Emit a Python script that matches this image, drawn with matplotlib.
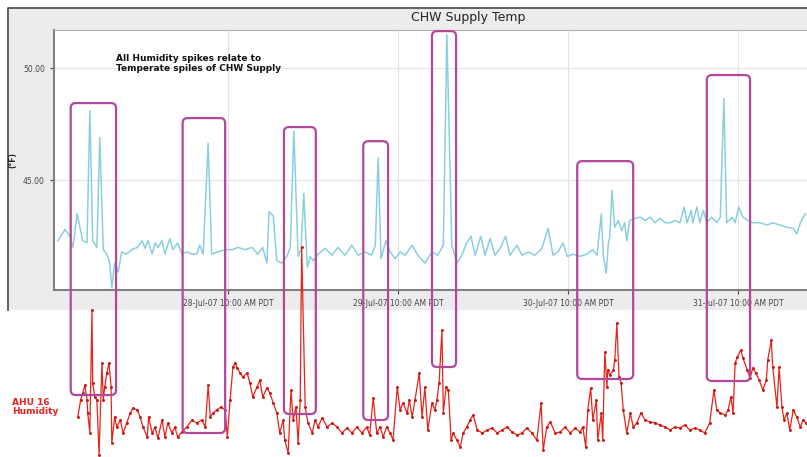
import datetime as dt
import matplotlib
matplotlib.use("Agg")
import matplotlib.pyplot as plt
import matplotlib.dates as mdates
from matplotlib.patches import Rectangle, FancyBboxPatch
from matplotlib.lines import Line2D
from matplotlib.transforms import IdentityTransform

## ---------------------- DATA -------------------------------
start = dt.datetime(2007, 7, 27, 10, 0)

# CHW supply temp (hours after start, deg F)
chw_hours = [0.0, 1.0, 1.7, 2.1, 2.7, 3.1, 3.5, 4.1, 4.5, 4.9, 5.5, 5.9, 6.4, 6.9, 7.3,
             7.6, 8.0, 8.5, 9.0, 9.7, 10.4, 11.2, 11.9, 12.3, 12.7, 13.3, 13.7, 14.1,
             14.7, 15.1, 15.8, 16.2, 16.9, 17.5, 18.2, 18.9, 19.6, 20.0, 20.5, 21.2,
             21.7, 22.6, 23.6, 24.6, 25.4, 26.4, 27.4, 28.2, 28.9, 29.5, 29.8, 30.4,
             30.9, 31.6, 32.3, 32.8, 33.3, 33.9, 34.3, 34.7, 35.2, 35.6, 36.0, 36.7,
             37.7, 38.7, 39.5, 40.5, 41.5, 42.4, 43.3, 44.3, 44.8, 45.2, 45.6, 46.3,
             46.9, 47.6, 48.3, 49.0, 50.0, 50.8, 51.8, 52.8, 53.6, 54.4, 54.9, 55.6,
             56.3, 57.0, 57.7, 58.3, 58.9, 59.7, 60.3, 61.0, 61.7, 62.4, 63.2, 63.8,
             64.8, 65.5, 66.4, 67.3, 68.3, 69.2, 69.9, 70.6, 71.3, 71.9, 72.7, 73.7,
             74.7, 75.5, 76.1, 76.7, 77.0, 77.4, 77.7, 77.9, 78.2, 78.6, 79.1, 79.6,
             80.0, 80.3, 80.7, 81.5, 82.2, 82.9, 83.6, 84.3, 85.0, 85.7, 86.4, 87.1,
             87.8, 88.4, 88.8, 89.4, 89.6, 90.2, 90.6, 91.1, 91.6, 92.3, 93.0, 93.5,
             94.0, 94.4, 95.2, 95.6, 96.1, 96.7, 97.4, 98.1, 99.1, 100.1, 100.9,
             101.9, 102.9, 103.8, 104.3, 104.8, 105.5]
chw_temp = [42.3, 42.8, 42.5, 42.0, 43.5, 42.9, 42.3, 42.2, 48.1, 42.3, 42.0, 46.9, 41.9,
            41.7, 41.3, 40.2, 41.3, 40.9, 41.8, 41.7, 41.9, 42.0, 42.3, 41.95, 42.3,
            41.7, 42.2, 42.0, 42.3, 41.7, 42.4, 41.9, 42.2, 41.7, 41.8, 41.7, 41.7,
            42.1, 41.7, 46.65, 41.7, 41.8, 41.9, 41.9, 42.0, 41.9, 42.0, 41.7, 42.0,
            41.3, 43.6, 43.4, 41.4, 41.3, 41.6, 42.0, 47.2, 41.6, 41.9, 44.4, 41.1,
            41.6, 41.4, 41.7, 41.95, 41.65, 42.0, 41.65, 42.1, 41.65, 41.8, 41.65,
            42.1, 46.0, 41.5, 42.3, 41.8, 41.5, 41.8, 41.65, 42.1, 41.65, 41.3, 41.8,
            41.65, 42.1, 51.5, 42.1, 41.3, 41.65, 42.2, 42.5, 41.65, 42.5, 41.65, 42.4,
            41.65, 41.95, 42.5, 41.65, 42.1, 41.65, 41.8, 41.65, 41.95, 42.85, 41.65,
            41.8, 42.2, 41.6, 41.7, 41.6, 41.7, 41.9, 41.65, 43.5, 41.6, 40.85, 42.2,
            42.45, 44.55, 42.9, 43.2, 42.75, 43.1, 42.3, 43.2, 43.3, 43.35, 43.2, 43.35,
            43.1, 43.3, 43.1, 43.1, 43.2, 43.1, 43.8, 43.1, 43.65, 43.1, 43.8, 43.1,
            43.65, 43.1, 43.35, 43.1, 43.35, 48.65, 43.1, 43.35, 43.1, 43.8, 43.35,
            43.2, 43.1, 43.1, 43.0, 43.1, 43.0, 42.9, 42.85, 42.6, 43.1, 43.5]

# AHU 16 humidity (hours after start, %RH)
ahu_hours = [2.8, 3.2, 3.5, 3.8, 4.1, 4.2, 4.5, 4.8, 4.9, 5.2, 5.5, 5.8, 6.2, 6.4, 6.6,
             6.9, 7.2, 7.5, 7.6, 8.0, 8.3, 8.8, 9.2, 9.7, 10.2, 10.6, 11.2, 11.6, 12.0,
             12.6, 12.8, 13.3, 13.7, 14.1, 14.7, 15.1, 15.5, 16.1, 16.5, 16.9, 17.5,
             18.2, 18.9, 19.6, 20.3, 20.8, 21.2, 21.5, 21.9, 22.4, 23.0, 23.6, 23.9,
             24.3, 24.7, 25.0, 25.3, 25.7, 26.1, 26.7, 27.1, 27.5, 28.1, 28.5, 28.9,
             29.5, 29.9, 30.4, 30.9, 31.3, 31.8, 32.0, 32.5, 32.9, 33.2, 33.6, 33.9,
             34.2, 34.4, 34.9, 35.3, 35.9, 36.3, 36.7, 37.3, 38.0, 38.7, 39.4, 40.1,
             40.8, 41.5, 42.2, 42.9, 43.6, 44.0, 44.5, 45.0, 45.5, 45.9, 46.4, 46.9,
             47.3, 47.9, 48.3, 48.7, 49.3, 49.6, 50.0, 50.4, 51.0, 51.4, 51.8, 52.2,
             52.8, 53.2, 53.5, 53.8, 54.2, 54.4, 54.8, 55.1, 55.5, 55.8, 56.3, 56.8,
             57.2, 57.7, 58.2, 58.6, 59.2, 59.9, 60.6, 61.3, 62.0, 62.7, 63.4, 64.1,
             64.8, 65.5, 66.2, 66.9, 67.6, 68.2, 68.5, 69.0, 69.5, 70.2, 70.9, 71.6,
             72.3, 73.0, 73.7, 74.1, 74.5, 74.8, 75.2, 75.5, 76.0, 76.2, 76.7, 76.9,
             77.2, 77.5, 77.6, 77.9, 78.4, 78.6, 78.9, 79.2, 79.5, 79.8, 80.3, 80.8,
             81.2, 81.7, 82.3, 82.9, 83.6, 84.3, 85.0, 85.7, 86.4, 87.1, 87.8, 88.5,
             89.2, 89.9, 90.6, 91.3, 92.0, 92.6, 93.0, 93.5, 94.2, 94.6, 95.0, 95.3,
             95.6, 95.9, 96.4, 96.7, 97.3, 97.7, 98.1, 98.5, 99.0, 99.5, 100.0, 100.2,
             100.7, 100.9, 101.5, 101.8, 102.2, 102.5, 102.9, 103.3, 103.8, 104.3,
             104.8, 105.2, 105.6]
ahu_rh = [48.6, 52.0, 53.4, 55.0, 52.0, 49.4, 45.4, 70.0, 55.4, 52.6, 52.0, 41.0, 59.4,
          52.0, 54.6, 57.4, 59.4, 54.6, 43.4, 48.6, 46.6, 48.0, 45.4, 47.4, 49.4, 50.4,
          50.0, 48.6, 46.6, 44.6, 48.6, 45.4, 46.6, 44.4, 48.0, 44.6, 47.4, 45.4, 46.6,
          44.6, 45.6, 46.6, 48.0, 47.4, 48.0, 46.6, 55.0, 48.6, 49.4, 50.0, 50.6, 50.0,
          44.6, 52.0, 58.6, 59.4, 58.4, 57.4, 56.6, 57.4, 55.4, 52.6, 54.6, 56.0, 52.6,
          54.4, 53.4, 51.4, 49.4, 45.4, 48.0, 44.0, 41.4, 54.0, 48.0, 50.6, 43.4, 52.0,
          82.6, 50.6, 47.4, 45.4, 48.0, 46.6, 48.4, 46.6, 47.4, 46.6, 45.4, 46.4, 45.4,
          46.6, 45.4, 46.6, 45.0, 52.4, 45.4, 46.6, 44.6, 46.6, 45.4, 44.0, 54.6, 50.0,
          51.4, 49.4, 52.0, 48.6, 52.0, 57.4, 48.6, 54.6, 46.0, 51.4, 50.0, 52.0, 55.4,
          66.0, 49.4, 54.6, 54.0, 44.0, 45.4, 44.0, 42.6, 45.4, 46.6, 48.0, 49.0, 46.0,
          45.4, 46.0, 46.4, 45.4, 46.0, 46.6, 45.6, 45.0, 45.4, 46.4, 45.4, 44.0, 51.4,
          42.0, 46.6, 47.6, 45.4, 45.6, 46.6, 45.4, 46.4, 45.6, 46.6, 42.6, 50.0, 54.4,
          48.0, 52.0, 44.0, 49.4, 44.0, 61.6, 54.6, 58.0, 57.0, 58.0, 60.0, 67.4, 56.6,
          55.4, 50.0, 45.4, 49.4, 46.6, 47.4, 49.4, 48.0, 47.6, 47.4, 47.0, 46.6, 46.0,
          46.6, 46.4, 47.0, 46.0, 46.4, 46.0, 45.4, 47.4, 54.0, 50.0, 49.4, 49.0, 50.0,
          52.6, 49.4, 59.4, 60.6, 62.0, 60.4, 58.0, 56.4, 58.4, 57.4, 56.0, 54.0, 56.0,
          60.0, 64.0, 58.6, 50.6, 58.6, 50.6, 48.0, 49.4, 46.0, 50.0, 48.6, 46.6, 48.0,
          47.4]

# highlighted spikes: start hour, end hour, top (deg F), bottom (%RH)
box_start = [1.8, 17.6, 31.9, 43.1, 52.8, 73.3, 91.6]
box_end = [8.2, 23.6, 36.4, 46.6, 56.2, 81.2, 97.7]
box_top_temp = [48.44, 47.77, 47.37, 46.74, 51.65, 45.85, 49.69]
box_bottom_rh = [53.0, 45.4, 49.2, 48.0, 58.6, 56.2, 55.8]

tick_times = [dt.datetime(2007, 7, d, 10, 0) for d in (28, 29, 30, 31)]
tick_labels = ['28-Jul-07 10:00 AM PDT', '29-Jul-07 10:00 AM PDT',
               '30-Jul-07 10:00 AM PDT', '31-Jul-07 10:00 AM PDT']

## ---------------------- PLOTTING -------------------------------
W, H = 807, 457
fig = plt.figure(figsize=(W / 100, H / 100), dpi=100)
fig.patch.set_facecolor('white')

def fx(px):
    return px / W

def fy(py):
    return 1 - py / H

# grey chart panel behind the top axes, dark border on top and left only
panel = Rectangle((fx(8), fy(310)), fx(807) - fx(8), fy(8) - fy(310),
                  transform=fig.transFigure, facecolor='#ececec',
                  edgecolor='none', zorder=-5)
fig.add_artist(panel)
fig.add_artist(Line2D([fx(8), fx(8), fx(807)], [fy(310), fy(8), fy(8)],
                      transform=fig.transFigure, color='#555555',
                      linewidth=1.3, zorder=-4))
fig.text(fx(468), fy(18), 'CHW Supply Temp', ha='center', va='center',
         fontsize=9, color='#222222')

chw_t = [start + dt.timedelta(hours=h) for h in chw_hours]
ahu_t = [start + dt.timedelta(hours=h) for h in ahu_hours]
xlim = (start + dt.timedelta(hours=-0.56), start + dt.timedelta(hours=105.74))

ax = fig.add_axes([fx(54), fy(290), fx(807) - fx(54), fy(30) - fy(290)])
ax.set_facecolor('white')
ax.plot(chw_t, chw_temp, color='#8bcfde', linewidth=1.1)
ax.set_xlim(xlim)
ax.set_ylim(40.1, 51.7)
ax.set_yticks([45, 50])
ax.set_yticklabels(['45.00', '50.00'])
ax.set_xticks(tick_times)
ax.set_xticklabels(tick_labels)
ax.tick_params(labelsize=5.5, colors='#444444', length=3, width=0.8)
ax.grid(True, color='#e4e4e4', linewidth=0.8)
for side in ['left', 'bottom']:
    ax.spines[side].set_color('#808080')
    ax.spines[side].set_linewidth(1.5)
ax.spines['top'].set_color('#b0b0b0')
ax.spines['right'].set_visible(False)
ax.text(-0.055, 0.5, '(°F)', transform=ax.transAxes, rotation=90,
        ha='center', va='center', fontsize=5.5, fontweight='bold', color='#222222')
ax.text(fx(116 - 54) / (fx(807) - fx(54)), 0.87,
        'All Humidity spikes relate to\nTemperate spiles of CHW Supply',
        transform=ax.transAxes, ha='left', va='center', fontsize=6.5,
        fontweight='bold', color='#111111', linespacing=1.1)

# humidity trace, no axes, shares the time scale
ax2 = fig.add_axes([fx(54), 0, fx(807) - fx(54), fy(240)])
ax2.patch.set_alpha(0)
ax2.plot(ahu_t, ahu_rh, color='#e8231c', linewidth=0.9, marker='.',
         markersize=2.2, markerfacecolor='#c81810', markeredgecolor='#c81810')
ax2.set_xlim(xlim)
ax2.set_ylim(132 - 0.2 * 457, 132 - 0.2 * 240)
ax2.axis('off')
fig.text(fx(12), fy(407), 'AHU 16\nHumidity', ha='left', va='center',
         fontsize=6.5, fontweight='bold', color='#e8231c', linespacing=1.1)

# magenta boxes linking the spikes in both traces
for i in range(len(box_start)):
    t0 = mdates.date2num(start + dt.timedelta(hours=box_start[i]))
    t1 = mdates.date2num(start + dt.timedelta(hours=box_end[i]))
    x0, y1 = ax.transData.transform((t0, box_top_temp[i]))
    x1, _ = ax.transData.transform((t1, box_top_temp[i]))
    _, y0 = ax2.transData.transform((t0, box_bottom_rh[i]))
    box = FancyBboxPatch((x0, y0), x1 - x0, y1 - y0,
                         boxstyle='round,pad=0,rounding_size=5',
                         transform=IdentityTransform(), facecolor='none',
                         edgecolor='#b2479c', linewidth=1.6, zorder=10)
    fig.add_artist(box)

fig.savefig('out.png', dpi=100)
